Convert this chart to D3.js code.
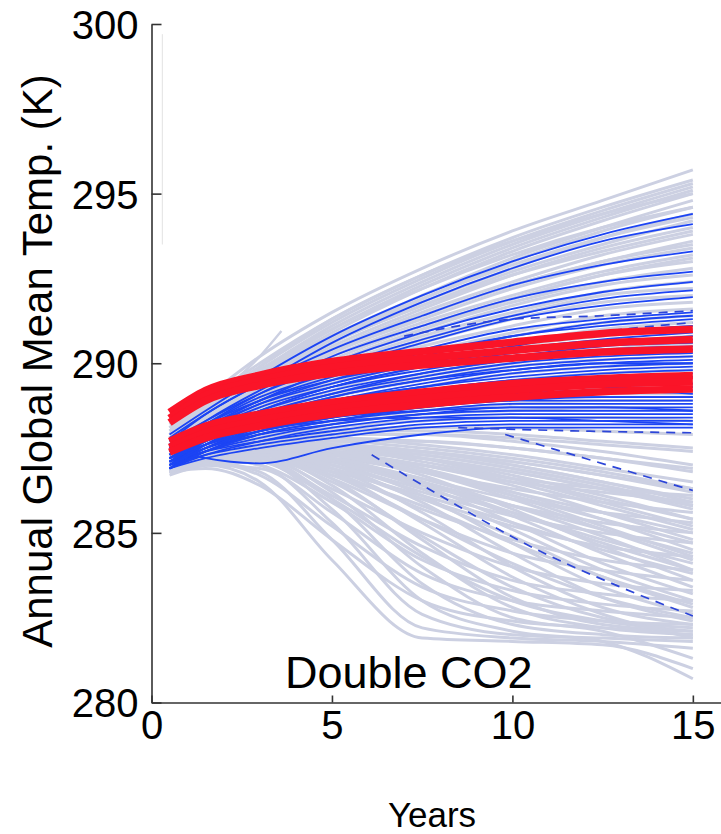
<!DOCTYPE html>
<html>
<head>
<meta charset="utf-8">
<script src="https://cdn.jsdelivr.net/npm/d3@7"></script>
<style>
  html, body { margin: 0; padding: 0; background: #fff; }
  svg { display: block; font-family: "Liberation Sans", Arial, Helvetica, sans-serif; }
</style>
</head>
<body>
<svg id="chart" width="721" height="834"></svg>
<script>
// ---------------- DATA ----------------
const years = [0.5, 1.5, 3, 5, 7.5, 10, 12.5, 15];
const xTicks = [0, 5, 10, 15];
const yTicks = [280, 285, 290, 295, 300];
const xLabel = "Years";
const yLabel = "Annual Global Mean Temp. (K)";
const panelLabel = "Double CO2";

// light grey ensemble members (temperature K at each year in `years`)
const grayRuns = [
  [288.2, 289.0, 290.2, 291.5, 292.8, 293.9, 294.8, 295.7],
  [288.1, 288.9, 290.0, 291.3, 292.6, 293.7, 294.6, 295.4],
  [288.0, 288.8, 289.9, 291.2, 292.5, 293.6, 294.5, 295.3],
  [288.1, 288.8, 289.8, 291.1, 292.4, 293.5, 294.4, 295.2],
  [287.9, 288.7, 289.8, 291.0, 292.3, 293.4, 294.3, 295.1],
  [288.0, 288.7, 289.7, 290.9, 292.2, 293.3, 294.2, 295.0],
  [287.9, 288.7, 289.9, 291.3, 292.6, 293.6, 294.4, 295.0],
  [287.8, 288.6, 289.6, 290.8, 292.0, 293.1, 294.0, 294.8],
  [287.9, 288.6, 289.6, 290.8, 291.9, 293.0, 293.9, 294.6],
  [287.8, 288.6, 289.7, 291.0, 292.2, 293.2, 294.0, 294.6],
  [287.7, 288.5, 289.5, 290.7, 291.8, 292.8, 293.7, 294.4],
  [287.6, 288.4, 289.5, 290.7, 291.9, 292.9, 293.7, 294.3],
  [287.8, 288.5, 289.4, 290.6, 291.7, 292.7, 293.5, 294.2],
  [287.6, 288.4, 289.4, 290.5, 291.6, 292.6, 293.4, 294.0],
  [287.5, 288.3, 289.4, 290.6, 291.7, 292.6, 293.3, 293.9],
  [287.7, 288.4, 289.3, 290.4, 291.5, 292.4, 293.2, 293.8],
  [287.6, 288.3, 289.3, 290.4, 291.4, 292.3, 293.0, 293.6],
  [287.4, 288.2, 289.2, 290.3, 291.4, 292.3, 293.0, 293.5],
  [287.5, 288.3, 289.2, 290.3, 291.3, 292.2, 292.9, 293.4],
  [287.6, 288.2, 289.1, 290.2, 291.2, 292.0, 292.7, 293.2],
  [287.3, 288.0, 288.9, 290.0, 291.0, 291.9, 292.6, 293.1],
  [287.4, 288.2, 289.1, 290.1, 291.1, 291.9, 292.6, 293.0],
  [287.5, 288.1, 289.0, 290.0, 291.0, 291.8, 292.4, 292.8],
  [287.3, 288.1, 289.0, 290.0, 290.9, 291.7, 292.3, 292.6],
  [287.4, 288.0, 288.9, 289.9, 290.8, 291.5, 292.1, 292.4],
  [287.2, 288.0, 288.8, 289.8, 290.7, 291.4, 292.0, 292.2],
  [287.3, 287.9, 288.8, 289.7, 290.6, 291.3, 291.8, 292.0],
  [287.5, 288.1, 288.9, 289.7, 290.5, 291.1, 291.6, 291.8],
  [287.3, 287.9, 288.7, 289.5, 290.3, 290.9, 291.4, 291.6],
  [287.6, 288.2, 288.9, 289.6, 290.2, 290.8, 291.2, 291.4],
  [287.2, 287.8, 288.6, 289.4, 290.1, 290.6, 291.0, 291.2],
  [287.4, 288.0, 288.7, 289.4, 290.0, 290.5, 290.8, 291.0],
  [287.1, 287.7, 288.5, 289.2, 289.9, 290.3, 290.6, 290.8],
  [287.3, 287.9, 288.5, 289.1, 289.7, 290.1, 290.4, 290.6],
  [287.0, 287.6, 288.3, 289.0, 289.6, 290.0, 290.3, 290.4],
  [287.2, 287.7, 288.4, 289.0, 289.5, 289.9, 290.1, 290.2],
  [286.9, 287.5, 288.2, 288.8, 289.3, 289.7, 289.9, 290.0],
  [287.1, 287.6, 288.2, 288.7, 289.1, 289.5, 289.7, 289.8],
  [286.8, 287.4, 288.0, 288.6, 289.0, 289.3, 289.5, 289.6],
  [287.0, 287.5, 288.0, 288.5, 288.9, 289.2, 289.3, 289.4],
  [286.9, 287.4, 287.9, 288.4, 288.7, 289.0, 289.1, 289.1],
  [287.2, 287.6, 288.0, 288.3, 288.6, 288.8, 288.9, 288.9],
  [286.8, 287.3, 287.8, 288.2, 288.5, 288.6, 288.7, 288.6],
  [287.0, 287.4, 287.8, 288.1, 288.3, 288.4, 288.4, 288.3],
  [286.9, 287.3, 287.7, 288.0, 288.1, 288.1, 288.0, 287.9],
  [287.2, 287.6, 287.9, 288.0, 288.0, 287.9, 287.7, 287.5],
  [287.1, 287.5, 287.8, 287.9, 287.9, 287.8, 287.6, 287.4],
  [287.0, 287.4, 287.7, 287.9, 287.9, 287.7, 287.4, 287.0],
  [286.8, 287.2, 287.5, 287.7, 287.7, 287.5, 287.2, 286.9],
  [287.0, 287.3, 287.6, 287.6, 287.4, 287.1, 286.7, 286.3],
  [286.9, 287.3, 287.6, 287.6, 287.4, 287.0, 286.5, 285.9],
  [286.9, 287.2, 287.4, 287.4, 287.2, 286.8, 286.3, 285.8],
  [287.1, 287.3, 287.5, 287.5, 287.3, 286.9, 286.4, 285.8],
  [287.2, 287.5, 287.6, 287.5, 287.1, 286.6, 286.0, 285.4],
  [287.0, 287.4, 287.7, 287.6, 287.2, 286.6, 285.9, 285.2],
  [286.8, 287.1, 287.3, 287.2, 286.8, 286.2, 285.6, 285.0],
  [287.1, 287.4, 287.5, 287.3, 286.8, 286.1, 285.4, 284.7],
  [286.9, 287.2, 287.3, 287.1, 286.5, 285.8, 285.1, 284.4],
  [287.1, 287.4, 287.6, 287.4, 286.9, 286.1, 285.2, 284.3],
  [287.0, 287.3, 287.4, 287.0, 286.3, 285.6, 284.8, 284.1],
  [286.9, 287.3, 287.5, 287.2, 286.5, 285.6, 284.7, 283.9],
  [286.7, 287.0, 287.1, 286.8, 286.1, 285.3, 284.5, 283.8],
  [286.8, 287.1, 287.2, 286.7, 285.8, 284.7, 283.7, 282.9],
  [287.0, 287.3, 287.3, 286.7, 285.4, 284.1, 283.1, 282.5],
  [286.9, 287.2, 287.1, 286.0, 284.3, 283.0, 282.4, 282.1],
  [286.8, 287.0, 286.5, 284.2, 281.9, 281.8, 281.7, 281.0],
  [286.9, 287.1, 286.8, 284.8, 282.2, 281.9, 281.8, 281.6],
  [287.0, 287.2, 287.0, 285.3, 282.6, 282.0, 281.9, 281.8],
  [286.8, 287.1, 287.1, 285.7, 283.0, 282.1, 281.8, 280.7],
  [287.1, 287.3, 287.2, 286.0, 283.5, 282.3, 282.0, 281.9],
  [286.9, 287.2, 287.2, 286.2, 284.0, 282.5, 282.1, 281.3],
  [287.0, 287.3, 287.3, 286.4, 284.4, 282.8, 282.2, 282.0],
  [287.2, 287.4, 287.4, 286.6, 284.8, 283.1, 282.3, 282.1],
  [286.8, 287.1, 287.2, 286.5, 284.9, 283.4, 282.5, 282.2],
  [287.1, 287.4, 287.4, 286.8, 285.3, 283.7, 282.6, 281.9],
  [286.9, 287.2, 287.3, 286.9, 285.6, 284.0, 282.8, 282.3],
  [287.0, 287.3, 287.4, 287.0, 285.9, 284.4, 283.1, 282.4],
  [287.2, 287.5, 287.5, 287.1, 286.1, 284.7, 283.4, 282.6],
  [286.8, 287.1, 287.2, 286.9, 286.0, 284.9, 283.7, 282.8],
  [287.1, 287.4, 287.5, 287.2, 286.3, 285.1, 283.9, 283.0],
  [286.9, 287.2, 287.3, 287.1, 286.4, 285.3, 284.1, 283.2],
  [287.0, 287.3, 287.4, 287.2, 286.5, 285.5, 284.4, 283.4],
  [287.2, 287.5, 287.6, 287.3, 286.7, 285.7, 284.6, 283.6],
  [286.9, 287.2, 287.3, 287.1, 286.6, 285.8, 284.9, 283.9],
  [287.1, 287.4, 287.5, 287.3, 286.8, 286.0, 285.1, 284.2],
  [287.0, 287.3, 287.4, 287.3, 286.9, 286.2, 285.4, 284.5],
  [287.2, 287.5, 287.6, 287.4, 287.0, 286.4, 285.6, 284.8],
  [286.8, 287.2, 287.4, 287.3, 287.0, 286.5, 285.8, 285.1],
  [287.1, 287.4, 287.6, 287.5, 287.2, 286.7, 286.1, 285.4],
  [286.9, 287.3, 287.5, 287.4, 287.2, 286.8, 286.3, 285.7],
  [287.1, 287.3, 287.5, 287.5, 287.3, 286.9, 286.4, 285.8],
  [287.0, 287.4, 287.6, 287.6, 287.4, 287.0, 286.5, 286.0],
  [287.2, 287.5, 287.7, 287.7, 287.5, 287.2, 286.8, 286.3],
  [286.9, 287.3, 287.5, 287.5, 287.4, 287.1, 286.7, 286.2],
  [287.1, 287.5, 287.8, 287.8, 287.6, 287.3, 286.9, 286.5],
  [287.0, 287.4, 287.7, 287.8, 287.7, 287.5, 287.2, 286.8],
  [286.8, 286.9, 286.4, 284.8, 283.0, 282.4, 282.2, 282.0],
  [287.0, 287.1, 286.7, 285.2, 283.4, 282.7, 282.4, 282.3],
  [286.9, 287.0, 286.9, 285.6, 283.8, 283.0, 282.7, 282.5],
  [287.1, 287.2, 287.0, 285.9, 284.2, 283.3, 282.9, 282.7],
  [286.8, 287.0, 287.1, 286.1, 284.6, 283.6, 283.2, 283.0],
  [287.0, 287.2, 287.2, 286.3, 285.0, 284.0, 283.5, 283.3],
  [286.9, 287.2, 287.3, 286.6, 285.4, 284.4, 283.9, 283.6],
  [287.1, 287.3, 287.3, 286.8, 285.7, 284.8, 284.2, 283.9],
  [287.0, 287.3, 287.4, 286.9, 286.0, 285.2, 284.6, 284.3],
  [286.8, 287.1, 287.3, 287.0, 286.2, 285.5, 285.0, 284.7],
  [287.2, 287.4, 287.5, 287.1, 286.4, 285.8, 285.3, 285.0],
  [286.9, 287.2, 287.4, 287.2, 286.6, 286.0, 285.6, 285.3],
  [287.1, 287.4, 287.5, 287.3, 286.8, 286.3, 285.9, 285.6],
  [287.0, 287.3, 287.5, 287.4, 287.0, 286.5, 286.2, 285.9],
  [286.8, 287.1, 287.3, 287.3, 287.0, 286.6, 286.3, 286.1]
];
// one short grey run that stops early
const grayShortYears = [0.5, 1.5, 3, 3.6];
const grayShortTemps = [287.9, 288.8, 290.2, 290.95];

// blue (solid) ensemble members
const blueRuns = [
  [287.9, 288.6, 289.6, 290.8, 292.0, 293.0, 293.8, 294.4],
  [287.7, 288.5, 289.4, 290.6, 291.8, 292.8, 293.6, 294.1],
  [287.8, 288.5, 289.4, 290.4, 291.4, 292.3, 292.9, 293.3],
  [287.6, 288.3, 289.2, 290.2, 291.1, 291.9, 292.4, 292.7],
  [287.5, 288.2, 289.1, 290.0, 290.9, 291.6, 292.1, 292.4],
  [287.7, 288.3, 289.1, 289.9, 290.7, 291.4, 291.9, 292.15],
  [287.4, 288.1, 288.9, 289.8, 290.6, 291.3, 291.7, 291.95],
  [287.6, 288.2, 289.0, 289.7, 290.4, 291.0, 291.3, 291.5],
  [287.3, 288.0, 288.8, 289.5, 290.2, 290.8, 291.1, 291.3],
  [287.5, 288.1, 288.8, 289.4, 290.0, 290.5, 290.9, 291.1],
  [287.2, 287.9, 288.6, 289.3, 289.9, 290.4, 290.7, 290.9],
  [287.4, 288.0, 288.7, 289.3, 289.8, 290.2, 290.5, 290.6],
  [287.1, 287.8, 288.5, 289.1, 289.7, 290.1, 290.4, 290.5],
  [287.3, 287.9, 288.5, 289.1, 289.6, 290.0, 290.2, 290.3],
  [287.0, 287.7, 288.4, 289.0, 289.5, 289.9, 290.1, 290.2],
  [287.2, 287.8, 288.4, 288.9, 289.4, 289.8, 290.0, 290.1],
  [286.9, 287.6, 288.3, 288.9, 289.3, 289.7, 289.9, 290.0],
  [287.3, 287.9, 288.4, 288.9, 289.3, 289.6, 289.8, 289.9],
  [287.0, 287.6, 288.2, 288.8, 289.2, 289.5, 289.7, 289.8],
  [287.2, 287.7, 288.3, 288.8, 289.2, 289.5, 289.6, 289.7],
  [286.9, 287.5, 288.1, 288.7, 289.1, 289.4, 289.5, 289.6],
  [287.1, 287.6, 288.1, 288.6, 289.0, 289.2, 289.3, 289.2],
  [286.9, 287.4, 288.0, 288.5, 288.9, 289.1, 289.2, 289.1],
  [287.0, 287.5, 288.0, 288.4, 288.8, 289.0, 289.0, 289.0],
  [287.2, 287.6, 288.0, 288.4, 288.7, 288.9, 288.9, 288.9],
  [286.9, 287.4, 287.9, 288.3, 288.6, 288.8, 288.8, 288.8],
  [287.1, 287.5, 287.9, 288.2, 288.5, 288.7, 288.7, 288.7],
  [287.0, 287.4, 287.8, 288.2, 288.5, 288.6, 288.6, 288.6],
  [286.9, 287.3, 287.7, 288.1, 288.4, 288.5, 288.5, 288.5],
  [287.1, 287.4, 287.7, 288.0, 288.3, 288.4, 288.4, 288.4],
  [287.0, 287.3, 287.6, 287.9, 288.2, 288.3, 288.3, 288.3],
  [286.9, 287.2, 287.5, 287.8, 288.1, 288.2, 288.2, 288.2],
  [287.6, 287.2, 287.05, 287.5, 287.9, 288.1, 288.1, 288.1],
  [287.5, 288.1, 288.9, 289.6, 290.3, 290.8, 291.2, 291.4],
  [287.3, 287.9, 288.6, 289.3, 289.9, 290.3, 290.6, 290.8],
  [287.1, 287.7, 288.4, 289.0, 289.5, 289.8, 290.0, 290.0],
  [287.0, 287.6, 288.2, 288.7, 289.1, 289.3, 289.4, 289.4],
  [286.9, 287.4, 287.9, 288.3, 288.7, 288.9, 289.0, 289.0],
  [287.2, 287.7, 288.2, 288.6, 288.9, 289.1, 289.2, 289.3],
  [287.4, 288.0, 288.6, 289.2, 289.7, 290.1, 290.3, 290.4],
  [287.6, 288.2, 288.9, 289.5, 290.0, 290.4, 290.6, 290.7],
  [287.0, 287.5, 288.0, 288.4, 288.6, 288.7, 288.7, 288.6],
  [287.2, 287.6, 288.0, 288.3, 288.4, 288.4, 288.3, 288.2]
];

// blue dashed members (each with its own years)
const dashYears = [
  [6.1, 8, 10.5, 13, 15],
  [9.8, 12, 15],
  [8.5, 12, 15],
  [7, 10, 12.5, 15],
  [8, 11, 15]
];
const dashTemps = [
  [287.3, 286.1, 284.6, 283.4, 282.55],
  [287.9, 287.2, 286.25],
  [288.1, 288.0, 287.95],
  [290.8, 291.3, 291.4, 291.55],
  [290.0, 290.7, 291.2]
];

// red members (two tight bundles)
const redRuns = [
  [288.55, 289.2, 289.65, 290.05, 290.35, 290.62, 290.88, 291.0],
  [288.38, 289.06, 289.5, 289.88, 290.15, 290.38, 290.59, 290.7],
  [288.25, 288.9, 289.35, 289.7, 289.95, 290.15, 290.33, 290.42],
  [287.7, 288.15, 288.5, 288.85, 289.15, 289.4, 289.55, 289.64],
  [287.52, 287.96, 288.32, 288.67, 288.97, 289.2, 289.38, 289.45],
  [287.38, 287.8, 288.15, 288.5, 288.78, 289.0, 289.16, 289.24]
];

// ---------------- DRAW ----------------
const svg = d3.select("#chart");
const x = d3.scaleLinear().domain([0, 15.78]).range([151.5, 721]);
const y = d3.scaleLinear().domain([280, 300]).range([702.5, 24]);

const lineFor = (xs) => d3.line()
  .defined(d => d != null)
  .x((d, i) => x(xs[i]))
  .y(d => y(d))
  .curve(d3.curveMonotoneX);

const gLines = svg.append("g");

gLines.append("g").selectAll("path").data(grayRuns).join("path")
  .attr("d", d => lineFor(years)(d))
  .attr("fill", "none").attr("stroke", "#ccd0e2").attr("stroke-width", 3);

gLines.append("path").datum(grayShortTemps)
  .attr("d", d => lineFor(grayShortYears)(d))
  .attr("fill", "none").attr("stroke", "#ccd0e2").attr("stroke-width", 2.4);

gLines.append("g").selectAll("path").data(blueRuns).join("path")
  .attr("d", d => lineFor(years)(d))
  .attr("fill", "none").attr("stroke", "#1c44f4").attr("stroke-width", 1.8);

gLines.append("g").selectAll("path").data(dashTemps).join("path")
  .attr("d", (d, i) => lineFor(dashYears[i])(d))
  .attr("fill", "none").attr("stroke", "#2c45d8").attr("stroke-width", 1.7)
  .attr("stroke-dasharray", "9,7");

gLines.append("g").selectAll("path").data(redRuns).join("path")
  .attr("d", d => lineFor(years)(d))
  .attr("fill", "none").attr("stroke", "#fa1428").attr("stroke-width", 7.5)
  .attr("stroke-linejoin", "round");

// faint scan artefact line near the y axis
svg.append("line").attr("x1", x(0.3)).attr("x2", x(0.3))
  .attr("y1", y(299.7)).attr("y2", y(293.5))
  .attr("stroke", "#e2e2e2").attr("stroke-width", 1);

// axes
const yAxis = d3.axisLeft(y).tickValues(yTicks).tickSizeInner(-10).tickSizeOuter(0).tickPadding(13);
const xAxis = d3.axisBottom(x).tickValues(xTicks).tickSizeInner(-7).tickSizeOuter(0).tickPadding(8);

const gy = svg.append("g").attr("transform", `translate(${x(0)},0)`).call(yAxis);
const gx = svg.append("g").attr("transform", `translate(0,${y(280)})`).call(xAxis);

[gx, gy].forEach(g => {
  g.select(".domain").attr("stroke", "#333").attr("stroke-width", 1.6);
  g.selectAll(".tick line").attr("stroke", "#333").attr("stroke-width", 1.6);
  g.selectAll(".tick text").attr("fill", "#000")
    .style("font-family", '"Liberation Sans", Arial, sans-serif').style("font-size", "40px");
});
gy.selectAll(".tick text").attr("dy", "0.36em");

svg.append("text").attr("x", 285).attr("y", 688)
  .style("font-size", "45px").attr("fill", "#000").text(panelLabel);

svg.append("text").attr("x", 432).attr("y", 827).attr("text-anchor", "middle")
  .style("font-size", "35px").attr("fill", "#000").text(xLabel);

svg.append("text").attr("transform", `translate(52, 361) rotate(-90)`)
  .attr("text-anchor", "middle")
  .style("font-size", "42px").attr("fill", "#000").text(yLabel);
</script>
</body>
</html>
